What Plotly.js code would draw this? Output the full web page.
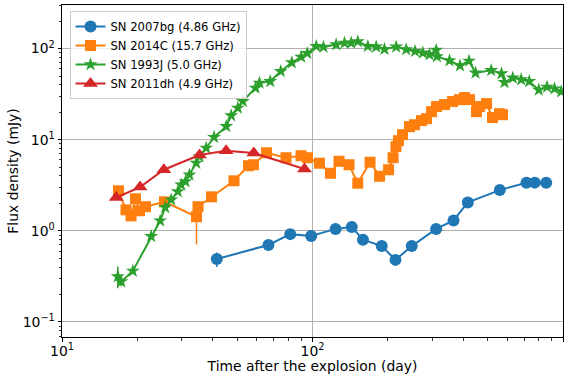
<!DOCTYPE html>
<html>
<head>
<meta charset="utf-8">
<script src="https://cdn.plot.ly/plotly-3.0.1.min.js"></script>
<style>html,body{margin:0;padding:0;background:#fff;}#chart{width:574px;height:374px;}</style>
</head>
<body>
<div id="chart"></div>
<script>
// SN 2007bg (4.86 GHz)
const t2007bg = [41.5, 66.7, 81.5, 98.8, 123.6, 143.5, 159, 188.9, 214.4, 249, 311.7, 365.6, 416.9, 559.4, 714.8, 771.6, 857];
const f2007bg = [0.49, 0.70, 0.92, 0.88, 1.05, 1.10, 0.80, 0.68, 0.48, 0.68, 1.05, 1.30, 2.05, 2.80, 3.37, 3.38, 3.37];
const e2007bg = [0.09, 0.02, 0.02, 0.02, 0.02, 0.02, 0.02, 0.02, 0.02, 0.02, 0.02, 0.03, 0.04, 0.05, 0.06, 0.06, 0.06];

// SN 2014C (15.7 GHz)
const t2014C = [16.81, 18.01, 18.86, 19.65, 20.39, 21.54, 25.66, 34.43, 34.91, 39.53, 48.6, 55.5, 58.1, 65.5, 78.4, 90.0, 95.5, 106.6, 118, 127.6, 139.9, 151.6, 169.7, 185.2, 201.2, 209.7, 215.4, 220.4, 228.7, 243.9, 255.4, 272.4, 285.2, 298.7, 312.6, 336.5, 362.2, 386.3, 404.5, 423.5, 451.6, 464.2, 495, 523.1, 557.8, 573.5];
const f2014C = [2.75, 1.70, 1.46, 2.25, 1.66, 1.84, 2.08, 1.43, 1.84, 2.36, 3.54, 5.18, 5.31, 7.19, 6.34, 6.67, 6.34, 5.52, 4.28, 5.80, 5.31, 3.33, 5.66, 3.97, 4.68, 6.34, 8.38, 9.75, 11.35, 13.9, 14.6, 16.2, 17.0, 20.3, 23.1, 24.3, 26.2, 27.5, 29.0, 27.5, 20.3, 23.1, 24.9, 17.5, 19.3, 18.8];
const ep2014C = [0.1, 0.1, 0.1, 0.1, 0.1, 0.1, 0.1, 0.3, 0.1, 0.1, 0.1, 0.1, 0.1, 0.2, 0.2, 0.2, 0.2, 0.2, 0.2, 0.2, 0.2, 0.2, 0.2, 0.2, 0.2, 0.2, 0.3, 0.3, 0.3, 0.4, 0.4, 0.4, 0.5, 0.5, 0.6, 0.6, 0.6, 0.6, 0.7, 0.7, 0.6, 0.6, 0.6, 0.5, 0.5, 0.5];
const em2014C = [0.1, 0.1, 0.1, 0.1, 0.1, 0.1, 0.1, 0.72, 0.1, 0.1, 0.1, 0.1, 0.1, 0.2, 0.2, 0.2, 0.2, 0.2, 0.2, 0.2, 0.2, 0.2, 0.2, 0.2, 0.2, 0.2, 0.3, 0.3, 0.3, 0.4, 0.4, 0.4, 0.5, 0.5, 0.6, 0.6, 0.6, 0.6, 0.7, 0.7, 0.6, 0.6, 0.6, 0.5, 0.5, 0.5];

// SN 1993J (5.0 GHz)
const t1993J = [16.70, 17.23, 19.17, 22.70, 24.66, 25.82, 27.29, 29.00, 29.92, 31.12, 32.28, 34.34, 35.40, 37.64, 40.45, 45.24, 47.37, 50.33, 52.70, 59.22, 61.43, 67.8, 74.7, 82.7, 90.1, 95.3, 103.5, 110.6, 124.3, 134.2, 142.7, 151.6, 166.3, 179.6, 193.8, 215.8, 236.6, 256.6, 275.7, 293.2, 311.8, 314, 352.3, 388.1, 421.6, 447.5, 516.8, 568.2, 584.1, 630.3, 681, 733.2, 800.8, 863.5, 925.1, 983.6];
const f1993J = [0.315, 0.277, 0.363, 0.870, 1.29, 1.81, 2.19, 2.70, 3.20, 3.48, 4.12, 5.55, 6.55, 8.11, 10.65, 14.0, 18.4, 22.3, 26.4, 37.0, 42.0, 43.7, 56.3, 70.2, 81.0, 88.8, 106, 103.9, 110.6, 114.9, 115.5, 119.4, 106, 104.4, 98.5, 104.4, 97.5, 93.4, 89.7, 85.9, 96.3, 81.7, 73.8, 65.0, 73.2, 54.1, 57.7, 53.1, 42.6, 47.7, 45.6, 43.7, 35.2, 37.9, 36.3, 33.7];
const ep1993J = [0.09, 0.03, 0.02, 0.05, 0.06, 0.08, 0.1, 0.1, 0.1, 0.1, 0.1, 0.2, 0.2, 0.3, 0.4, 0.5, 0.6, 0.7, 0.8, 1, 1, 1, 2, 2, 2, 2, 3, 3, 3, 3, 3, 3, 3, 3, 3, 3, 3, 3, 3, 3, 3, 3, 2, 2, 2, 2, 2, 2, 2, 2, 2, 2, 1, 1, 1, 1];
const em1993J = [0.08, 0.03, 0.02, 0.05, 0.06, 0.08, 0.1, 0.1, 0.1, 0.1, 0.1, 0.2, 0.2, 0.3, 0.4, 0.5, 0.6, 0.7, 0.8, 1, 1, 1, 2, 2, 2, 2, 3, 3, 3, 3, 3, 3, 3, 3, 3, 3, 3, 3, 3, 3, 3, 3, 2, 2, 2, 2, 2, 2, 2, 2, 2, 2, 1, 1, 1, 1];

// SN 2011dh (4.9 GHz)
const t2011dh = [16.46, 20.5, 25.5, 35.4, 45.2, 58.3, 92.9];
const f2011dh = [2.32, 3.02, 4.68, 6.79, 7.57, 7.14, 4.77];

// axis ticks
const xTickVals = [10, 100, 1000];
const xTickText = ['10<sup>1</sup>', '10<sup>2</sup>', '10<sup>3</sup>'];
const yTickVals = [0.1, 1, 10, 100];
const yTickText = ['10<sup>\u22121</sup>', '10<sup>0</sup>', '10<sup>1</sup>', '10<sup>2</sup>'];

function minorVals(lo, hi) {
  const out = [];
  for (let e = lo; e <= hi; e++) {
    for (let m = 2; m <= 9; m++) out.push(m * Math.pow(10, e));
  }
  return out;
}

const colors = ['#1f77b4', '#ff7f0e', '#2ca02c', '#d62728'];

const traces = [
  {
    x: t2007bg, y: f2007bg, name: 'SN 2007bg (4.86 GHz)', type: 'scatter', mode: 'lines+markers',
    line: {color: colors[0], width: 2}, marker: {symbol: 'circle', size: 12, color: colors[0]},
    error_y: {type: 'data', array: e2007bg, color: colors[0], thickness: 1.5, width: 0}
  },
  {
    x: t2014C, y: f2014C, name: 'SN 2014C (15.7 GHz)', type: 'scatter', mode: 'lines+markers',
    line: {color: colors[1], width: 2}, marker: {symbol: 'square', size: 11, color: colors[1]},
    error_y: {type: 'data', symmetric: false, array: ep2014C, arrayminus: em2014C, color: colors[1], thickness: 1.5, width: 0}
  },
  {
    x: t1993J, y: f1993J, name: 'SN 1993J (5.0 GHz)', type: 'scatter', mode: 'lines+markers',
    line: {color: colors[2], width: 2}, marker: {symbol: 'star', size: 10.5, color: colors[2]},
    error_y: {type: 'data', symmetric: false, array: ep1993J, arrayminus: em1993J, color: colors[2], thickness: 1.5, width: 0}
  },
  {
    x: t2011dh, y: f2011dh, name: 'SN 2011dh (4.9 GHz)', type: 'scatter', mode: 'lines+markers',
    line: {color: colors[3], width: 2}, marker: {symbol: 'triangle-up', size: 13, color: colors[3]}
  }
];

const font = {family: 'DejaVu Sans, sans-serif', color: '#000'};

const layout = {
  width: 574, height: 374,
  margin: {l: 62, r: 11, t: 5, b: 37, pad: 0, autoexpand: false},
  paper_bgcolor: '#fff', plot_bgcolor: '#fff',
  font: {family: font.family, size: 13.9, color: '#000'},
  showlegend: true,
  xaxis: {
    type: 'log', range: [1, 3], automargin: false,
    tickmode: 'array', tickvals: xTickVals, ticktext: xTickText,
    ticks: 'outside', ticklen: 3.5, tickwidth: 1, tickcolor: '#000',
    ticklabelstandoff: -2,
    showline: true, linecolor: '#000', linewidth: 1, mirror: true,
    showgrid: true, gridcolor: '#b0b0b0', gridwidth: 1,
    zeroline: false,
    tickfont: {family: font.family, size: 13.9, color: '#000'},
    minor: {tickmode: 'array', tickvals: minorVals(1, 2), ticks: 'outside', ticklen: 2.5, tickwidth: 0.8, tickcolor: '#000', showgrid: false},
    title: {text: 'Time after the explosion (day)', font: {family: font.family, size: 13.9, color: '#000'}, standoff: 0}
  },
  yaxis: {
    type: 'log', range: [-1.165, 2.478], automargin: false,
    tickmode: 'array', tickvals: yTickVals, ticktext: yTickText,
    ticks: 'outside', ticklen: 3.5, tickwidth: 1, tickcolor: '#000',
    showline: true, linecolor: '#000', linewidth: 1, mirror: true,
    showgrid: true, gridcolor: '#b0b0b0', gridwidth: 1,
    zeroline: false,
    tickfont: {family: font.family, size: 13.9, color: '#000'},
    minor: {tickmode: 'array', tickvals: minorVals(-2, 2), ticks: 'outside', ticklen: 2.5, tickwidth: 0.8, tickcolor: '#000', showgrid: false},
    title: {text: 'Flux density (mJy)', font: {family: font.family, size: 13.9, color: '#000'}, standoff: 0}
  },
  legend: {
    x: 0.015, y: 0.982, xanchor: 'left', yanchor: 'top',
    bgcolor: 'rgba(255,255,255,0.8)', bordercolor: '#cccccc', borderwidth: 1,
    font: {family: font.family, size: 11.6, color: '#000'},
    tracegroupgap: 0
  }
};

Plotly.newPlot('chart', traces, layout, {displayModeBar: false, staticPlot: true});
</script>
</body>
</html>
